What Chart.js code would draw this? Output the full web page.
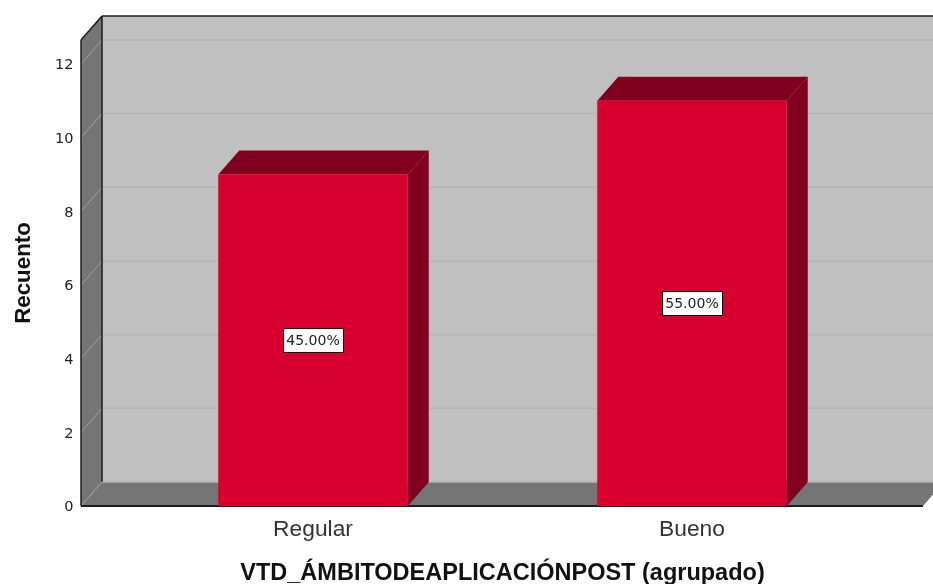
<!DOCTYPE html>
<html><head><meta charset="utf-8">
<style>html,body{margin:0;padding:0;background:#fff;overflow:hidden}canvas{display:block}</style>
<script src="https://cdn.jsdelivr.net/npm/chart.js@4"></script>
</head><body><canvas id="c" width="933" height="584"></canvas>
<script>
const categories = ['Regular', 'Bueno'];
const counts = [9, 11];
const percentLabels = ['45.00%', '55.00%'];
const yTicks = [0, 2, 4, 6, 8, 10, 12];
const yMax = 12.65;
const xTitle = 'VTD_ÁMBITODEAPLICACIÓNPOST (agrupado)';
const yTitle = 'Recuento';

const DX = 21, DY = 24, PAD_L = 42.5, PAD_R = 41.5;
const WALL = '#C0C0C0', GRID = '#B4B4B4', SIDE = '#757575', SIDE_GRID = '#A0A0A0',
      BAR = '#D7002E', BAR_DARK = '#82001F', EDGE = '#1c1c1c';

function poly(ctx, pts, fill) {
  ctx.beginPath();
  pts.forEach((p, i) => i ? ctx.lineTo(p[0], p[1]) : ctx.moveTo(p[0], p[1]));
  ctx.closePath();
  ctx.fillStyle = fill;
  ctx.fill();
}
function line(ctx, x1, y1, x2, y2, color, w) {
  ctx.beginPath(); ctx.moveTo(x1, y1); ctx.lineTo(x2, y2);
  ctx.strokeStyle = color; ctx.lineWidth = w; ctx.stroke();
}

const plot3d = {
  id: 'plot3d',
  beforeDatasetsDraw(chart) {
    const { ctx, chartArea: a, scales: { y } } = chart;
    const L = a.left - PAD_L, R = a.right + PAD_R, T = a.top, B = a.bottom;
    ctx.save();
    poly(ctx, [[L + DX, T - DY], [R + DX, T - DY], [R + DX, B - DY], [L + DX, B - DY]], WALL);
    poly(ctx, [[L, T], [L + DX, T - DY], [L + DX, B - DY], [L, B]], SIDE);
    poly(ctx, [[L, B], [L + DX, B - DY], [R + DX, B - DY], [R, B]], SIDE);
    yTicks.forEach(v => {
      const p = y.getPixelForValue(v);
      line(ctx, L + DX, p - DY, R + DX, p - DY, GRID, 1.5);
      line(ctx, L, p, L + DX, p - DY, SIDE_GRID, 1);
    });
    line(ctx, L + DX, T - DY, R + DX, T - DY, EDGE, 1.5);
    line(ctx, L + DX, T - DY, L + DX, B - DY, EDGE, 1.5);
    line(ctx, L, T, L + DX, T - DY, EDGE, 1.5);
    line(ctx, L, T, L, B, EDGE, 1.5);
    line(ctx, L, B, R, B, EDGE, 2);
    chart.getDatasetMeta(0).data.forEach(bar => {
      const l = bar.x - bar.width / 2, r = bar.x + bar.width / 2, t = bar.y, b = bar.base;
      poly(ctx, [[r, t], [r + DX, t - DY], [r + DX, b - DY], [r, b]], BAR_DARK);
      poly(ctx, [[l, t], [l + DX, t - DY], [r + DX, t - DY], [r, t]], BAR_DARK);
    });
    ctx.restore();
  },
  afterDatasetsDraw(chart) {
    const { ctx } = chart;
    ctx.save();
    ctx.font = '14px "DejaVu Sans"';
    ctx.textAlign = 'center';
    ctx.textBaseline = 'middle';
    chart.getDatasetMeta(0).data.forEach((bar, i) => {
      const cx = bar.x, cy = (bar.y + bar.base) / 2, w = 60, h = 24;
      ctx.fillStyle = '#fff';
      ctx.fillRect(cx - w / 2, cy - h / 2, w, h);
      ctx.strokeStyle = '#000';
      ctx.lineWidth = 1;
      ctx.strokeRect(Math.round(cx - w / 2) + .5, Math.round(cy - h / 2) + .5, w, h);
      ctx.fillStyle = '#222';
      ctx.fillText(percentLabels[i], cx, cy + 1);
    });
    ctx.restore();
  }
};

new Chart(document.getElementById('c'), {
  type: 'bar',
  data: { labels: categories, datasets: [{ data: counts, backgroundColor: BAR, borderWidth: 0,
    barPercentage: 0.5, categoryPercentage: 1 }] },
  plugins: [plot3d],
  options: {
    responsive: false, animation: false,
    layout: { padding: { top: 40, right: 51.5, left: 0, bottom: 0 } },
    plugins: { legend: { display: false }, tooltip: { enabled: false } },
    scales: {
      x: {
        grid: { display: false, drawTicks: false }, border: { display: false },
        afterFit(s) { s.height = 78; },
        ticks: { color: '#333', font: { family: 'Liberation Sans', size: 22.8 }, padding: 10 },
        title: { display: true, text: xTitle, color: '#111',
          font: { family: 'Liberation Sans', size: 23.5, weight: 'bold' }, padding: { top: 0, bottom: -4 } }
      },
      y: {
        min: 0, max: yMax,
        afterBuildTicks(s) { s.ticks = yTicks.map(value => ({ value })); },
        afterFit(s) { s.width = 123.5; s.paddingTop = 0; s.paddingBottom = 0; },
        grid: { display: false, drawTicks: false }, border: { display: false },
        ticks: { color: '#222', font: { family: 'DejaVu Sans', size: 14.5 }, padding: 50, labelOffset: 1.5 },
        title: { display: true, text: yTitle, color: '#111',
          font: { family: 'Liberation Sans', size: 22.3, weight: 'bold' }, padding: { top: 10, bottom: 0 } }
      }
    }
  }
});
</script></body></html>
